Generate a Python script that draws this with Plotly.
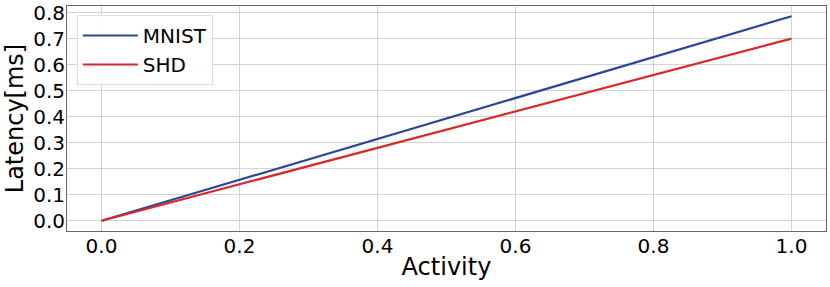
import plotly.graph_objects as go

activity = [0.0, 1.0]
mnist_latency = [0.0, 0.786]
shd_latency = [0.0, 0.700]

x_ticks = [0.0, 0.2, 0.4, 0.6, 0.8, 1.0]
x_ticklabels = ["0.0", "0.2", "0.4", "0.6", "0.8", "1.0"]
y_ticks = [0.0, 0.1, 0.2, 0.3, 0.4, 0.5, 0.6, 0.7, 0.8]
y_ticklabels = ["0.0", "0.1", "0.2", "0.3", "0.4", "0.5", "0.6", "0.7", "0.8"]

FONT = "DejaVu Sans"

fig = go.Figure()
fig.add_trace(go.Scatter(x=activity, y=mnist_latency, mode="lines", name="MNIST",
                         line=dict(color="#2a4696", width=2.2)))
fig.add_trace(go.Scatter(x=activity, y=shd_latency, mode="lines", name="SHD",
                         line=dict(color="#d7282a", width=2.2)))

fig.update_layout(
    width=830, height=287,
    margin=dict(l=67, r=4, t=6, b=56, autoexpand=False),
    paper_bgcolor="white", plot_bgcolor="white",
    font=dict(family=FONT, color="black", size=20),
    showlegend=True,
    legend=dict(x=0.013, y=0.96, xanchor="left", yanchor="top",
                bgcolor="rgba(255,255,255,0.85)", bordercolor="#dddddd", borderwidth=1,
                font=dict(family=FONT, size=20, color="black"),
                itemwidth=55, tracegroupgap=0),
)
fig.update_xaxes(
    range=[-0.05, 1.05], tickvals=x_ticks, ticktext=x_ticklabels,
    showgrid=True, gridcolor="#d3d3d3", gridwidth=1,
    showline=True, linecolor="#666666", linewidth=1, mirror=True,
    zeroline=False, ticks="", tickfont=dict(size=20, family=FONT),
    ticklabelstandoff=-3,
    automargin=False,
    title=dict(text="Activity", font=dict(size=24, family=FONT), standoff=1),
)
fig.update_yaxes(
    range=[-0.0393, 0.8253], tickvals=y_ticks, ticktext=y_ticklabels,
    showgrid=True, gridcolor="#d3d3d3", gridwidth=1,
    showline=True, linecolor="#666666", linewidth=1, mirror=True,
    zeroline=False, ticks="", tickfont=dict(size=20, family=FONT),
    ticklabelstandoff=-3,
    automargin=False,
    title=dict(text="Latency[ms]", font=dict(size=24, family=FONT), standoff=2),
)

fig.write_html("out.html", config={"displayModeBar": False},
               post_script="document.body.style.margin='0';document.body.style.overflow='hidden';")
